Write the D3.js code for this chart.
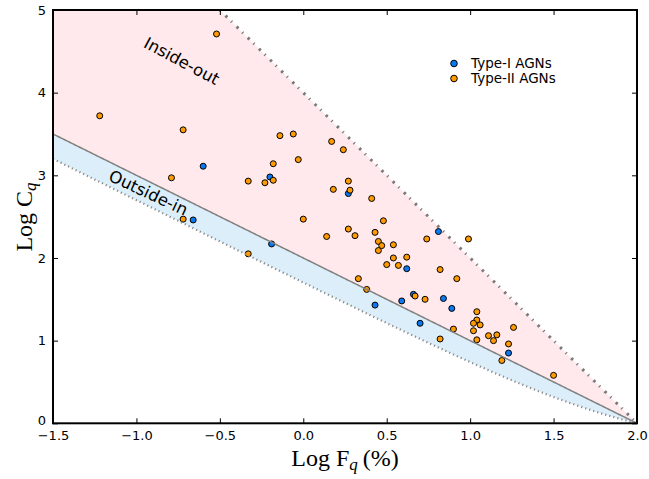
<!DOCTYPE html>
<html>
<head>
<meta charset="utf-8">
<script src="https://cdn.jsdelivr.net/npm/d3@7"></script>
<style>
  html, body { margin: 0; padding: 0; background: #fff; }
  svg { display: block; }
  .tick text { font-family: "DejaVu Sans", sans-serif; font-size: 13px; fill: #000; }
</style>
</head>
<body>
<svg id="chart" width="649" height="479"></svg>
<script>
// Type-I AGNs: log quenched fraction (%) and log concentration
const typeI_logF = [-0.60, -0.66, -0.20, -0.19, 0.27, 0.81, 0.62, 0.43, 0.59, 0.66, 0.84, 0.89, 0.70, 1.23];
const typeI_logC = [ 3.11,  2.46,  2.98,  2.17, 2.78, 2.32, 1.87, 1.43, 1.48, 1.56, 1.51, 1.39, 1.21, 0.85];

// Type-II AGNs
const typeII_logF = [-1.22, -0.52, -0.72, -0.79, -0.72, -0.33, -0.33, -0.23, -0.18, -0.18,
                     -0.14, -0.06, -0.03,  0.00,  0.17,  0.24,  0.18,  0.27,  0.28,  0.41,
                      0.48,  0.27,  0.14,  0.31,  0.43,  0.45,  0.47,  0.45,  0.54,  0.54,
                      0.50,  0.57,  0.62,  0.74,  0.99,  0.82,  0.92,  0.33,  0.38,  0.67,
                      0.73,  1.04,  1.04,  1.02,  1.06,  0.90,  1.02,  0.82,  1.04,  1.11,
                      1.14,  1.16,  1.26,  1.23,  1.19,  1.50];
const typeII_logC = [ 3.72,  4.71,  3.55,  2.97,  2.47,  2.05,  2.93,  2.91,  2.94,  3.14,
                      3.48,  3.50,  3.19,  2.47,  3.41,  3.31,  2.83,  2.93,  2.82,  2.72,
                      2.45,  2.35,  2.26,  2.27,  2.31,  2.20,  2.15,  2.09,  2.16,  2.00,
                      1.92,  1.91,  2.01,  2.23,  2.23,  1.86,  1.75,  1.75,  1.62,  1.54,
                      1.50,  1.35,  1.25,  1.21,  1.19,  1.14,  1.12,  1.02,  1.01,  1.06,
                      1.00,  1.07,  1.16,  0.96,  0.76,  0.58];

const xTicks = [-1.5, -1.0, -0.5, 0.0, 0.5, 1.0, 1.5, 2.0];
const yTicks = [0, 1, 2, 3, 4, 5];
const legendLabels = ["Type-I AGNs", "Type-II AGNs"];
const colors = ["#0a78ee", "#ff9a00"];

// Boundary curves between the quenching regimes
const uniformLine = f => 2 - f;                          // C = 100 / F
const insideOutLine = f => 4 - 2 * f;                    // C = (100 / F)^2
const outsideInLine = f => Math.log10((Math.pow(10, 2 - f) + 1) / 2);

const svg = d3.select("#chart");
const L = 53, R = 637, T = 10, B = 423.3;
const x = d3.scaleLinear().domain([-1.5, 2.0]).range([L, R]);
const y = d3.scaleLinear().domain([0, 5]).range([B, T]);

svg.append("defs").append("clipPath").attr("id", "plotclip")
  .append("rect").attr("x", L).attr("y", T).attr("width", R - L).attr("height", B - T);

const plot = svg.append("g").attr("clip-path", "url(#plotclip)");
const fs = d3.range(-1.5, 2.0001, 0.01);

// Pink band: between the uniform line and the inside-out limit
const pinkArea = d3.area()
  .x(d => x(d))
  .y0(d => y(uniformLine(d)))
  .y1(d => y(Math.min(5, insideOutLine(d))));
plot.append("path").datum(fs).attr("d", pinkArea).attr("fill", "#ffe9ec");

// Blue band: between the outside-in limit and the uniform line
const blueArea = d3.area()
  .x(d => x(d))
  .y0(d => y(outsideInLine(d)))
  .y1(d => y(uniformLine(d)));
plot.append("path").datum(fs).attr("d", blueArea).attr("fill", "#dbeef9");

// Points
const groups = [
  {f: typeI_logF, c: typeI_logC, color: colors[0]},
  {f: typeII_logF, c: typeII_logC, color: colors[1]}
];
groups.forEach(g => {
  plot.append("g").selectAll("circle")
    .data(g.f.map((v, i) => [v, g.c[i]]))
    .join("circle")
    .attr("cx", d => x(d[0]))
    .attr("cy", d => y(d[1]))
    .attr("r", 3)
    .attr("fill", g.color)
    .attr("stroke", "#000")
    .attr("stroke-width", 1);
});

// Boundary lines
const line = fn => d3.line().x(d => x(d)).y(d => y(fn(d)));
plot.append("path").datum(fs).attr("d", line(uniformLine))
  .attr("fill", "none").attr("stroke", "#808080").attr("stroke-width", 1.5);
plot.append("path").datum(d3.range(-0.6, 2.0001, 0.01)).attr("d", line(insideOutLine))
  .attr("fill", "none").attr("stroke", "#7a7a7a").attr("stroke-width", 3)
  .attr("stroke-dasharray", "2.5,5.5,1.2,6.5");
plot.append("path").datum(fs).attr("d", line(outsideInLine))
  .attr("fill", "none").attr("stroke", "#8a8a8a").attr("stroke-width", 2.2)
  .attr("stroke-dasharray", "1.2,3");

// Region labels
svg.append("text").attr("transform", "translate(179,66) rotate(28)")
  .attr("text-anchor", "middle").attr("font-family", "DejaVu Sans, sans-serif")
  .attr("font-size", 16.5).text("Inside-out");
svg.append("text").attr("transform", "translate(146,198) rotate(25)")
  .attr("text-anchor", "middle").attr("font-family", "DejaVu Sans, sans-serif")
  .attr("font-size", 16.5).text("Outside-in");

// Axes with inward ticks on all four sides
const fmtX = d => d3.format(".1f")(d).replace("-", "\u2212");
const ax = svg.append("g").attr("transform", `translate(0,${B})`)
  .call(d3.axisBottom(x).tickValues(xTicks).tickSize(-5).tickPadding(7).tickFormat(fmtX));
const ay = svg.append("g").attr("transform", `translate(${L},0)`)
  .call(d3.axisLeft(y).tickValues(yTicks).tickSize(-5).tickPadding(7).tickFormat(d3.format("d")));
const at = svg.append("g").attr("transform", `translate(0,${T})`)
  .call(d3.axisTop(x).tickValues(xTicks).tickSize(-5).tickFormat(""));
const ar = svg.append("g").attr("transform", `translate(${R},0)`)
  .call(d3.axisRight(y).tickValues(yTicks).tickSize(-5).tickFormat(""));
[ax, ay, at, ar].forEach(a => {
  a.select(".domain").remove();
  a.selectAll(".tick line").attr("stroke", "#000").attr("stroke-width", 1);
});
ay.selectAll(".tick text").filter(d => d === 0).attr("dy", "0.1em");

svg.append("rect").attr("x", L).attr("y", T).attr("width", R - L).attr("height", B - T)
  .attr("fill", "none").attr("stroke", "#000").attr("stroke-width", 2);

// Legend
const leg = svg.append("g");
legendLabels.forEach((lab, i) => {
  leg.append("circle").attr("cx", 454).attr("cy", 63.5 + i * 15).attr("r", 3.3)
    .attr("fill", colors[i]).attr("stroke", "#000").attr("stroke-width", 1);
  leg.append("text").attr("x", 471).attr("y", 63.5 + i * 15).attr("dy", "0.35em")
    .attr("font-family", "DejaVu Sans, sans-serif").attr("font-size", 13.5).text(lab);
});

// Axis titles
const xl = svg.append("text").attr("x", 345).attr("y", 466).attr("text-anchor", "middle")
  .attr("font-family", "Liberation Serif, serif").attr("font-size", 24);
xl.append("tspan").text("Log F");
xl.append("tspan").attr("baseline-shift", "-22%").attr("font-size", 17)
  .attr("font-style", "italic").text("q");
xl.append("tspan").text("\u2009(%)");

const yl = svg.append("text").attr("transform", "translate(32,217) rotate(-90)")
  .attr("text-anchor", "middle").attr("font-family", "Liberation Serif, serif").attr("font-size", 24);
yl.append("tspan").text("Log C");
yl.append("tspan").attr("baseline-shift", "-22%").attr("font-size", 17)
  .attr("font-style", "italic").text("q");
</script>
</body>
</html>
